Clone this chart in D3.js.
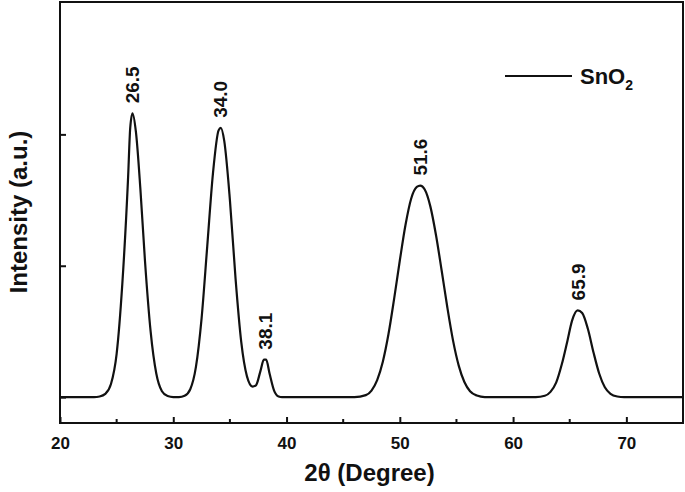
<!DOCTYPE html>
<html lang="en">
<head>
<meta charset="UTF-8">
<title>SnO2 XRD</title>
<script src="https://cdn.jsdelivr.net/npm/d3@7"></script>
<style>
  body { margin: 0; background: #fff; }
  text { font-family: "Liberation Sans", Arial, sans-serif; font-weight: bold; fill: #111; }
</style>
</head>
<body>
<svg id="chart" width="685" height="492"></svg>
<script>
// data: 2θ (degree) and intensity (a.u.)
const twoTheta = [20, 23, 23.5, 24, 24.5, 25, 25.5, 26, 26.2, 26.4, 26.7, 27.1, 27.5, 28, 28.5, 29, 29.5, 30, 30.5,
  31, 31.5, 32, 32.5, 33, 33.5, 34, 34.2, 34.5, 35, 35.5, 36, 36.5, 37, 37.3, 37.7, 38, 38.2, 38.5, 38.9, 39.3, 39.6,
  46, 47, 47.5, 48, 48.5, 49, 49.5, 50, 50.5, 51, 51.5, 51.8, 52.2, 52.7, 53.2, 53.7, 54.2, 54.7, 55.2, 55.7, 56.2, 56.8, 57.5,
  62, 62.8, 63.3, 63.8, 64.3, 64.8, 65.2, 65.7, 66.1, 66.6, 67.1, 67.6, 68.1, 68.6, 69.2, 69.8, 75]
const intensity = [0, 0, 5, 25, 100, 330, 860, 1650, 2050, 2160, 2020, 1580, 1040, 500, 180, 45, 8, 0, 0,
  10, 60, 230, 600, 1150, 1700, 2030, 2050, 1950, 1500, 900, 420, 160, 80, 90, 200, 285, 285, 180, 50, 5, 0,
  0, 15, 50, 130, 270, 480, 750, 1040, 1310, 1510, 1600, 1610, 1580, 1450, 1230, 960, 680, 430, 240, 115, 45, 12, 0,
  0, 10, 40, 110, 250, 430, 580, 660, 640, 520, 340, 180, 75, 25, 5, 0, 0]

const peakPos = [26.4, 34.1, 38.1, 51.8, 65.7]
const peakTop = [2160, 2050, 285, 1610, 660]
const peakLabels = ['26.5', '34.0', '38.1', '51.6', '65.9']

const xTicks = [20, 30, 40, 50, 60, 70]
const xMinor = [25, 35, 45, 55, 65, 75]
const yTicks = [0, 1000, 2000]

const svg = d3.select('#chart')
const LEFT = 60, RIGHT = 683, TOP = 2, BOTTOM = 423

const x = d3.scaleLinear().domain([20, 75]).range([LEFT, RIGHT])
const y = d3.scaleLinear().domain([-197, 3000]).range([BOTTOM, TOP + 1])

// frame
svg.append('rect')
  .attr('x', LEFT).attr('y', TOP)
  .attr('width', RIGHT - LEFT).attr('height', BOTTOM - TOP)
  .attr('fill', 'none').attr('stroke', '#111').attr('stroke-width', 2)

// x axis
const xAxis = svg.append('g').attr('transform', `translate(0,${BOTTOM})`)
  .call(d3.axisBottom(x).tickValues(xTicks).tickSizeInner(-6).tickSizeOuter(0).tickPadding(14))
xAxis.select('.domain').remove()
xAxis.selectAll('line').attr('stroke', '#111').attr('stroke-width', 2)
xAxis.attr('font-size', null).attr('font-family', null)
xAxis.selectAll('text')
  .style('font-size', '17px').style('font-weight', 'bold').style('fill', '#111')

svg.append('g').selectAll('line').data(xMinor).join('line')
  .attr('x1', d => x(d)).attr('x2', d => x(d))
  .attr('y1', BOTTOM).attr('y2', BOTTOM - 4)
  .attr('stroke', '#111').attr('stroke-width', 2)

// y axis (no labels)
const yAxis = svg.append('g').attr('transform', `translate(${LEFT},0)`)
  .call(d3.axisLeft(y).tickValues(yTicks).tickSizeInner(-6).tickSizeOuter(0).tickFormat(''))
yAxis.select('.domain').remove()
yAxis.selectAll('line').attr('stroke', '#111').attr('stroke-width', 2)

// pattern
const line = d3.line()
  .x((d, i) => x(twoTheta[i]))
  .y(d => y(d))
  .curve(d3.curveMonotoneX)

svg.append('path')
  .attr('d', line(intensity))
  .attr('fill', 'none')
  .attr('stroke', '#111')
  .attr('stroke-width', 2.2)

// peak labels
svg.append('g').selectAll('text').data(peakLabels).join('text')
  .attr('transform', (d, i) => `translate(${x(peakPos[i]) + 7},${y(peakTop[i]) - 10}) rotate(-90)`)
  .style('font-size', '19px')
  .text(d => d)

// legend
svg.append('line')
  .attr('x1', 505).attr('x2', 572).attr('y1', 76).attr('y2', 76)
  .attr('stroke', '#111').attr('stroke-width', 2)
const leg = svg.append('text').attr('x', 580).attr('y', 84).style('font-size', '22px')
leg.append('tspan').text('SnO')
leg.append('tspan').style('font-size', '14px').attr('dy', 6).text('2')

// axis titles
svg.append('text')
  .attr('x', (LEFT + RIGHT) / 2 - 2).attr('y', 481)
  .attr('text-anchor', 'middle').style('font-size', '24px')
  .text('2θ (Degree)')

svg.append('text')
  .attr('transform', `translate(27,212) rotate(-90)`)
  .attr('text-anchor', 'middle').style('font-size', '24px')
  .text('Intensity (a.u.)')
</script>
</body>
</html>
